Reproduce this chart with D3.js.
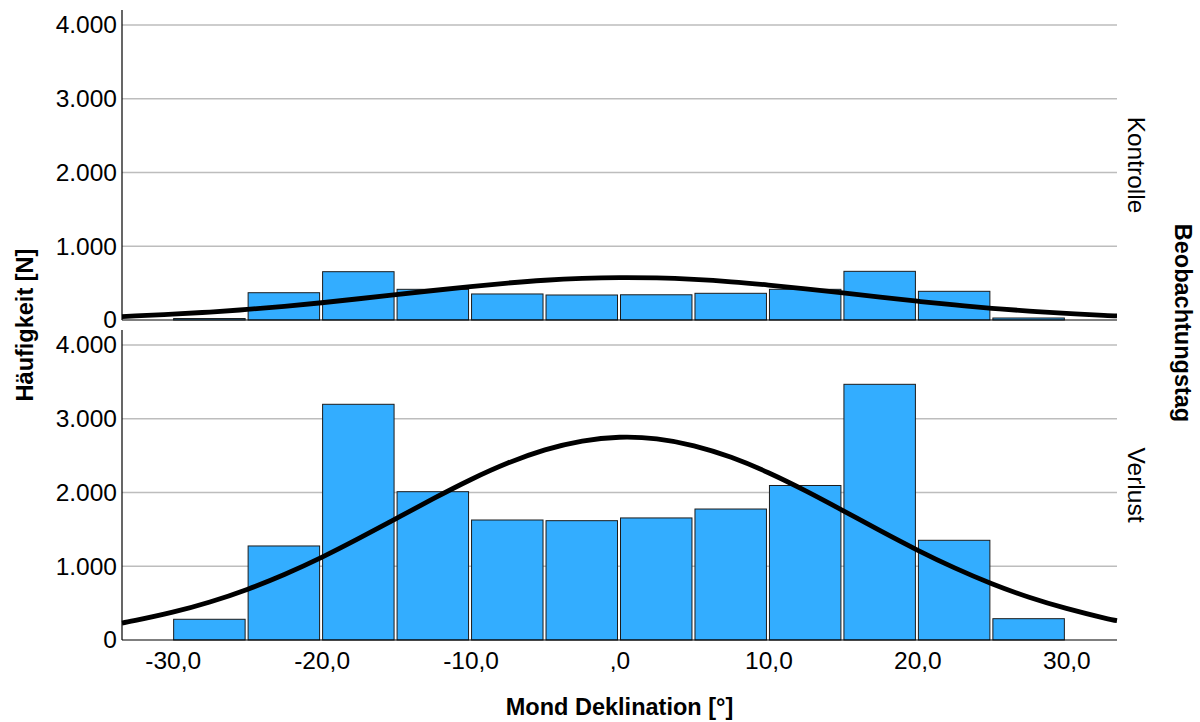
<!DOCTYPE html>
<html>
<head>
<meta charset="utf-8">
<script src="https://cdn.jsdelivr.net/npm/d3@7"></script>
<style>
  body { margin: 0; background: #fff; }
  svg { display: block; font-family: "Liberation Sans", Arial, sans-serif; }
</style>
</head>
<body>
<svg width="1200" height="722"></svg>
<script>
// histogram bins (lower edge of each 5 degree bin)
const binStarts = [-30, -25, -20, -15, -10, -5, 0, 5, 10, 15, 20, 25];
const binWidth = 5;
// counts per bin
const kontrolleCounts = [20, 370, 655, 416, 353, 339, 342, 362, 416, 660, 389, 27];
const verlustCounts = [281, 1275, 3196, 2011, 1627, 1618, 1655, 1776, 2095, 3467, 1352, 289];
// normal curve
const curveX = [-33.4, -32.5, -30, -27.5, -25, -22.5, -20, -17.5, -15, -12.5, -10, -7.5, -5, -2.5, 0,
  2.5, 5, 7.5, 10, 12.5, 15, 17.5, 20, 22.5, 25, 27.5, 30, 32.5, 33.4];
const kontrolleCurve = [47, 55, 79, 108, 143, 186, 234, 288, 344, 400, 454, 501, 539, 564, 575,
  570, 550, 518, 474, 423, 367, 310, 255, 204, 159, 121, 89, 62, 55];
const verlustCurve = [230, 265, 377, 515, 686, 888, 1120, 1377, 1646, 1916, 2173, 2399, 2578, 2698, 2749,
  2727, 2633, 2477, 2268, 2022, 1755, 1483, 1220, 978, 763, 579, 428, 300, 262];
// axis ticks
const xTicks = [-30, -20, -10, 0, 10, 20, 30];
const yTicks = [0, 1000, 2000, 3000, 4000];
const panelNames = ["Kontrolle", "Verlust"];

const svg = d3.select("svg");
const left = 122, right = 1117;
const panelTops = [10, 330];
const panelHeight = 310;

const de = d3.formatLocale({ decimal: ",", thousands: ".", grouping: [3], currency: ["", " €"], minus: "-" });
const fmtY = de.format(",.0f");
const fmtX = (d) => de.format(".1f")(d).replace(/^(-?)0,/, "$1,");

const x = d3.scaleLinear().domain([-33.4, 33.4]).range([left, right]);

const panels = [
  { counts: kontrolleCounts, curve: kontrolleCurve },
  { counts: verlustCounts, curve: verlustCurve },
];

panels.forEach((p, i) => {
  const top = panelTops[i];
  const bottom = top + panelHeight;
  // 4000 sits 295px above the baseline
  const y = d3.scaleLinear().domain([0, 4000]).range([bottom, bottom - 295]);
  const g = svg.append("g").attr("class", "panel");

  // gridlines
  g.append("g")
    .attr("class", "grid")
    .selectAll("line")
    .data(yTicks.filter((d) => d > 0))
    .join("line")
    .attr("x1", left)
    .attr("x2", right)
    .attr("y1", (d) => y(d))
    .attr("y2", (d) => y(d))
    .attr("stroke", "#bdbdbd")
    .attr("stroke-width", 1.5);

  // bars
  g.selectAll(".bar")
    .data(binStarts.map((s, k) => ({ start: s, count: p.counts[k] })))
    .join("rect")
    .attr("class", "bar")
    .attr("x", (d) => x(d.start) + 1)
    .attr("width", (d) => x(d.start + binWidth) - x(d.start) - 3)
    .attr("y", (d) => y(d.count))
    .attr("height", (d) => bottom - y(d.count))
    .attr("fill", "#33adff")
    .attr("stroke", "#1c1c1c")
    .attr("stroke-width", 1);

  // normal curve
  const line = d3.line()
    .x((d) => x(d[0]))
    .y((d) => y(d[1]))
    .curve(d3.curveNatural);
  g.append("path")
    .datum(curveX.map((v, k) => [v, p.curve[k]]))
    .attr("d", line)
    .attr("fill", "none")
    .attr("stroke", "#000")
    .attr("stroke-width", 4.8);

  // y axis
  const yAxis = g.append("g")
    .attr("transform", "translate(" + left + ",0)")
    .call(d3.axisLeft(y).tickValues(yTicks).tickFormat(fmtY).tickSize(0).tickPadding(5));
  yAxis.select(".domain").remove();
  yAxis.selectAll("text")
    .attr("font-size", "24.5px")
    .attr("font-family", "Liberation Sans, Arial, sans-serif")
    .attr("fill", "#000");
  g.append("line")
    .attr("x1", left).attr("x2", left)
    .attr("y1", top).attr("y2", bottom)
    .attr("stroke", "#000").attr("stroke-width", 1.2);

  // baseline of the panel
  g.append("line")
    .attr("x1", left).attr("x2", right)
    .attr("y1", bottom).attr("y2", bottom)
    .attr("stroke", "#000").attr("stroke-width", 1.2);

  // panel label on the right
  g.append("text")
    .attr("transform", "translate(1128," + (top + panelHeight / 2) + ") rotate(90)")
    .attr("text-anchor", "middle")
    .attr("font-size", "24.5px")
    .text(panelNames[i]);

  // x axis only under the last panel
  if (i === panels.length - 1) {
    const xAxis = g.append("g")
      .attr("transform", "translate(0," + bottom + ")")
      .call(d3.axisBottom(x).tickValues(xTicks).tickFormat(fmtX).tickSize(0).tickPadding(12));
    xAxis.select(".domain").remove();
    xAxis.selectAll("text")
      .attr("font-size", "24.5px")
      .attr("font-family", "Liberation Sans, Arial, sans-serif")
      .attr("fill", "#000");
  }
});

// axis titles
svg.append("text")
  .attr("transform", "translate(33,325) rotate(-90)")
  .attr("text-anchor", "middle")
  .attr("font-size", "23.5px")
  .attr("font-weight", "bold")
  .text("Häufigkeit [N]");

svg.append("text")
  .attr("transform", "translate(1175,323) rotate(90)")
  .attr("text-anchor", "middle")
  .attr("font-size", "23.5px")
  .attr("font-weight", "bold")
  .text("Beobachtungstag");

svg.append("text")
  .attr("x", (left + right) / 2)
  .attr("y", 715)
  .attr("text-anchor", "middle")
  .attr("font-size", "23.5px")
  .attr("font-weight", "bold")
  .text("Mond Deklination [°]");
</script>
</body>
</html>
